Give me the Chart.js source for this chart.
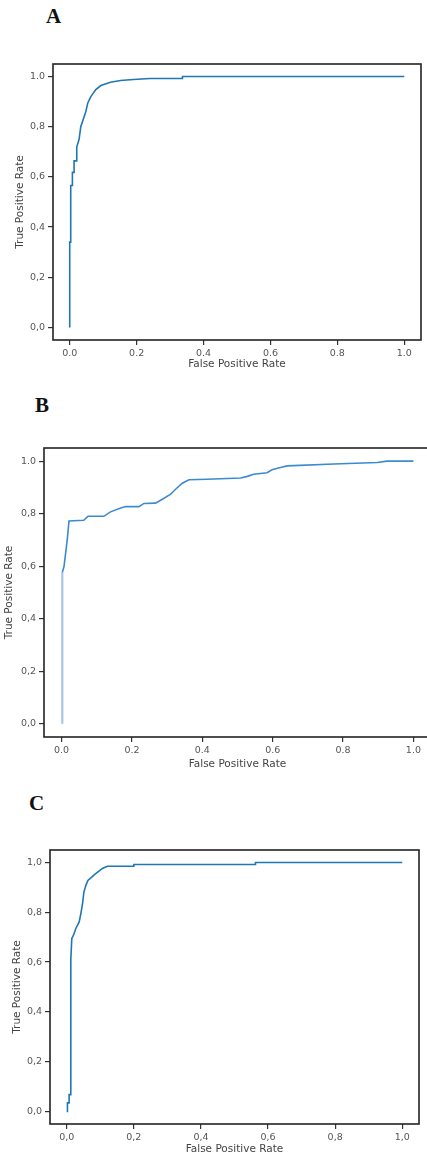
<!DOCTYPE html>
<html>
<head>
<meta charset="utf-8">
<script src="https://cdn.jsdelivr.net/npm/chart.js@4"></script>
<style>
  body { margin: 0; width: 427px; height: 1163px; overflow: hidden; background: #fff; position: relative; }
  .lbl { position: absolute; font-family: "Liberation Serif", serif; font-weight: bold; font-size: 21px; line-height: 21px; color: #111; }
  .box { position: absolute; left: 0; width: 427px; overflow: hidden; }
  canvas { display: block; }
</style>
</head>
<body>
<div class="lbl" style="left:46px;top:6px">A</div>
<div class="lbl" style="left:35px;top:395px">B</div>
<div class="lbl" style="left:29px;top:793px">C</div>
<div class="box" style="top:54px;height:317px"><canvas id="chartA" width="427" height="317"></canvas></div>
<div class="box" style="top:438px;height:333px"><canvas id="chartB" width="440" height="333"></canvas></div>
<div class="box" style="top:840px;height:316px"><canvas id="chartC" width="427" height="316"></canvas></div>
<script>
// ROC curves
const aFpr = [0, 0, 0.003, 0.003, 0.008, 0.008, 0.013, 0.013, 0.021, 0.021, 0.028, 0.033, 0.038, 0.048, 0.054, 0.063, 0.078, 0.093, 0.122, 0.152, 0.19, 0.24, 0.337, 0.337, 1.0]
const aTpr = [0, 0.34, 0.34, 0.566, 0.566, 0.618, 0.618, 0.664, 0.664, 0.72, 0.75, 0.80, 0.82, 0.86, 0.895, 0.92, 0.948, 0.964, 0.977, 0.984, 0.988, 0.992, 0.992, 1.0, 1.0]

const bFpr = [0.002, 0.002, 0.007, 0.016, 0.021, 0.063, 0.075, 0.12, 0.139, 0.168, 0.182, 0.22, 0.234, 0.267, 0.29, 0.31, 0.324, 0.343, 0.362, 0.414, 0.509, 0.528, 0.546, 0.584, 0.598, 0.622, 0.641, 0.774, 0.897, 0.925, 1.0]
const bTpr = [0, 0.576, 0.6, 0.70, 0.772, 0.775, 0.79, 0.79, 0.807, 0.822, 0.827, 0.827, 0.839, 0.84, 0.858, 0.874, 0.893, 0.916, 0.929, 0.931, 0.936, 0.942, 0.95, 0.956, 0.967, 0.976, 0.982, 0.989, 0.995, 1.0, 1.0]

const cFpr = [0, 0.002, 0.002, 0.007, 0.007, 0.012, 0.012, 0.015, 0.02, 0.027, 0.037, 0.042, 0.047, 0.051, 0.057, 0.063, 0.071, 0.086, 0.096, 0.106, 0.121, 0.2, 0.2, 0.5625, 0.5625, 1.0]
const cTpr = [0, 0, 0.035, 0.035, 0.068, 0.068, 0.61, 0.695, 0.708, 0.735, 0.761, 0.795, 0.835, 0.881, 0.908, 0.928, 0.937, 0.955, 0.965, 0.976, 0.985, 0.985, 0.992, 0.992, 1.0, 1.0]

const tickVals = [0, 0.2, 0.4, 0.6, 0.8, 1.0]
const xLabelsAB = ['0.0', '0.2', '0.4', '0.6', '0.8', '1.0']
const yLabelsAB = ['0,0', '0,2', '0,4', '0,6', '0,8', '1.0']
const xLabelsC = ['0,0', '0,2', '0,4', '0,6', '0,8', '1,0']
const yLabelsC = ['0,0', '0,2', '0,4', '0,6', '0,8', '1,0']

// box around the plot like matplotlib
const frame = {
  id: 'frame',
  afterDraw(chart) {
    const a = chart.chartArea
    const ctx = chart.ctx
    ctx.save()
    ctx.strokeStyle = '#222'
    ctx.lineWidth = 1.6
    ctx.strokeRect(a.left, a.top, a.right - a.left, a.bottom - a.top)
    ctx.restore()
  }
}

function roc(id, fpr, tpr, xLabels, yLabels, g) {
  const pts = []
  for (let i = 0; i < fpr.length; i++) {
    pts.push({ x: fpr[i], y: tpr[i] })
  }
  const tickFont = { family: 'DejaVu Sans', size: 9.5 }
  const titleFont = { family: 'DejaVu Sans', size: 10.5 }
  new Chart(document.getElementById(id), {
    type: 'scatter',
    data: {
      datasets: [{
        data: pts,
        showLine: true,
        borderColor: g.color,
        borderWidth: 1.6,
        pointRadius: 0,
        tension: 0,
        segment: g.segment || {}
      }]
    },
    options: {
      responsive: false,
      animation: false,
      devicePixelRatio: 1,
      layout: { autoPadding: false, padding: { left: 0, top: 10, right: g.right, bottom: 0 } },
      plugins: { legend: { display: false }, tooltip: { enabled: false } },
      scales: {
        x: {
          type: 'linear', min: -0.05, max: 1.05,
          afterBuildTicks: s => { s.ticks = tickVals.map(v => ({ value: v })) },
          afterFit: s => { s.height = g.xh },
          ticks: { font: tickFont, color: '#555', padding: 3, maxRotation: 0, autoSkip: false,
            callback: (v, i) => xLabels[i] },
          grid: { drawOnChartArea: false, tickLength: 5, color: '#333', lineWidth: 1.2 },
          border: { display: false },
          title: { display: true, text: 'False Positive Rate', font: titleFont, color: '#444', padding: { top: 0, bottom: 0 } }
        },
        y: {
          type: 'linear', min: -0.05, max: 1.05,
          afterBuildTicks: s => { s.ticks = tickVals.map(v => ({ value: v })) },
          afterFit: s => { s.width = g.yw },
          ticks: { font: tickFont, color: '#555', padding: 3, autoSkip: false,
            callback: (v, i) => yLabels[i] },
          grid: { drawOnChartArea: false, tickLength: 5, color: '#333', lineWidth: 1.2 },
          border: { display: false },
          title: { display: true, text: 'True Positive Rate', font: titleFont, color: '#444', padding: { top: g.tp, bottom: 0 } }
        }
      }
    },
    plugins: [frame]
  })
}

roc('chartA', aFpr, aTpr, xLabelsAB, yLabelsAB, { color: '#1f77b4', right: 6, yw: 53, xh: 31, tp: 14 })
roc('chartB', bFpr, bTpr, xLabelsAB, yLabelsAB, {
  color: '#3c8ad0', right: 9, yw: 44, xh: 34, tp: 3,
  segment: { borderColor: c => c.p1.parsed.y < 0.6 ? '#a9c5e8' : '#3c8ad0', borderWidth: c => c.p1.parsed.y < 0.6 ? 2.2 : 1.6 }
})
roc('chartC', cFpr, cTpr, xLabelsC, yLabelsC, { color: '#1f77b4', right: 8, yw: 50, xh: 32, tp: 11 })
</script>
</body>
</html>
